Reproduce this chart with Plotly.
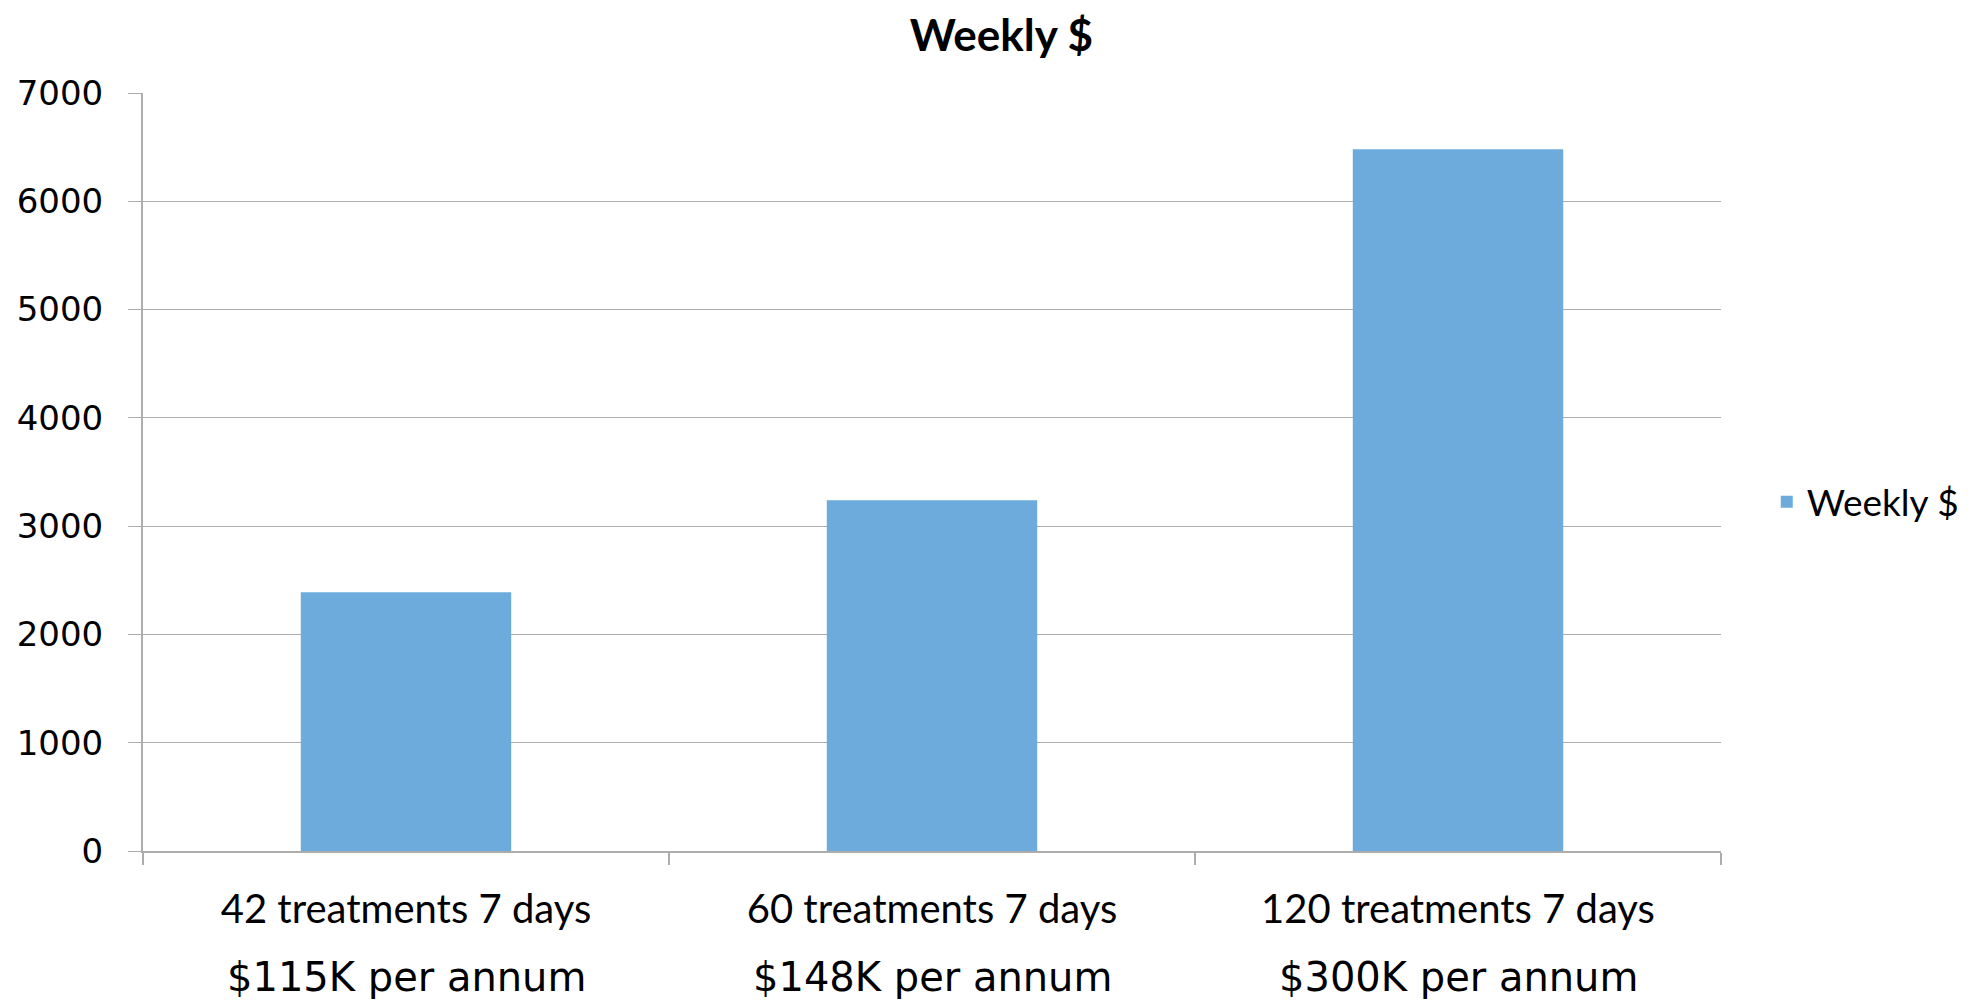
import plotly.graph_objects as go

categories = ["42 treatments 7 days", "60 treatments 7 days", "120 treatments 7 days"]
annual_labels = ["$115K per annum", "$148K per annum", "$300K per annum"]
weekly_values = [2390, 3240, 6480]
y_ticks = [0, 1000, 2000, 3000, 4000, 5000, 6000, 7000]

BAR = "#6CABDC"
GRID = "#ADADAD"
CAL = "Lato, Carlito, Calibri, sans-serif"
GOTH = "DejaVu Sans, sans-serif"

fig = go.Figure()
fig.add_trace(go.Bar(
    x=categories, y=weekly_values, name="Weekly $",
    marker=dict(color=BAR, line=dict(width=0)),
))

for c, t in zip(categories, annual_labels):
    fig.add_annotation(x=c, y=0, xref="x", yref="y", yshift=-126,
                       text=t, showarrow=False, yanchor="middle",
                       font=dict(family=GOTH, size=40, color="#000"))

fig.update_layout(
    width=1971, height=991,
    margin=dict(l=135, r=258, t=85, b=148),
    paper_bgcolor="white", plot_bgcolor="white",
    title=dict(text="<b>Weekly $</b>", x=0.504, xanchor="center", y=0.972, yanchor="middle",
               font=dict(family=CAL, size=44, color="#000"), automargin=False),
    bargap=0.6,
    showlegend=True,
    legend=dict(x=1.029, y=0.46, xanchor="left", yanchor="middle",
                font=dict(family=CAL, size=37, color="#000"), bgcolor="rgba(0,0,0,0)",
                borderwidth=0),
    xaxis=dict(type="category", tickson="boundaries", ticks="outside", ticklen=12,
               tickcolor=GRID, tickwidth=2, showgrid=False, automargin=False,
               showline=True, linecolor=GRID, linewidth=2,
               tickfont=dict(family=CAL, size=40, color="#000"), ticklabelstandoff=22),
    yaxis=dict(range=[0, 7000], tickvals=y_ticks, ticks="outside", ticklen=13,
               tickcolor=GRID, tickwidth=1.3, showgrid=True, gridcolor=GRID, gridwidth=1.3,
               showline=True, linecolor=GRID, linewidth=2, zeroline=False, automargin=False,
               tickfont=dict(family=GOTH, size=34, color="#000"), ticklabelstandoff=18),
)

fig.write_html("out.html")
